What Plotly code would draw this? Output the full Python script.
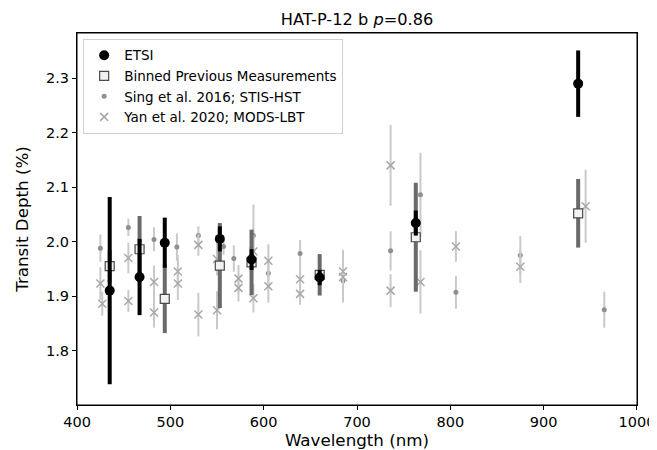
import plotly.graph_objects as go

# ETSI
etsi_wl = [435, 467, 494, 553, 587, 660, 763, 937]
etsi_depth = [1.910, 1.935, 1.998, 2.005, 1.967, 1.934, 2.034, 2.290]
etsi_err = [0.172, 0.070, 0.046, 0.023, 0.019, 0.014, 0.023, 0.061]

# Binned previous measurements
bin_wl = [435, 467, 494, 553, 587, 660, 763, 937]
bin_depth = [1.955, 1.986, 1.895, 1.956, 1.962, 1.939, 2.008, 2.052]
bin_err = [0.030, 0.061, 0.063, 0.078, 0.060, 0.038, 0.100, 0.063]

# Sing et al. 2016; STIS-HST
sing_wl = [425, 455, 482.5, 507, 530, 557, 568, 589, 605, 639, 685, 736, 768, 806, 875, 965]
sing_depth = [1.988, 2.026, 2.004, 1.990, 2.011, 1.991, 1.969, 2.011, 1.942, 1.978, 1.928, 1.983, 2.086, 1.907, 1.975, 1.875]
sing_err = [0.025, 0.016, 0.022, 0.025, 0.017, 0.015, 0.024, 0.057, 0.020, 0.025, 0.040, 0.036, 0.077, 0.030, 0.035, 0.033]

# Yan et al. 2020; MODS-LBT
yan_wl = [425, 427, 455, 455, 482.5, 482.5, 508, 508, 530, 530, 550, 550, 573, 573,
          589, 589, 605, 605, 639, 639, 685, 685, 736, 736, 768, 806, 875, 945]
yan_depth = [1.923, 1.886, 1.970, 1.891, 1.926, 1.870, 1.945, 1.923, 1.994, 1.866, 1.968, 1.874, 1.932, 1.915,
             1.982, 1.896, 1.965, 1.918, 1.931, 1.904, 1.945, 1.935, 2.140, 1.910, 1.926, 1.991, 1.954, 2.065]
yan_err = [0.030, 0.022, 0.028, 0.020, 0.030, 0.028, 0.030, 0.030, 0.020, 0.040, 0.030, 0.035, 0.025, 0.025,
           0.030, 0.026, 0.030, 0.030, 0.025, 0.020, 0.040, 0.040, 0.074, 0.030, 0.058, 0.028, 0.030, 0.067]

x_ticks = [400, 500, 600, 700, 800, 900, 1000]
y_ticks = [1.8, 1.9, 2.0, 2.1, 2.2, 2.3]

light = "#c9c9c9"
fig = go.Figure()

fig.add_trace(go.Scatter(
    x=sing_wl, y=sing_depth, mode="markers", name="Sing et al. 2016; STIS-HST",
    legendrank=3,
    marker=dict(symbol="circle", size=5, color="#8f8f8f"),
    error_y=dict(type="data", array=sing_err, color=light, thickness=2, width=0),
))
fig.add_trace(go.Scatter(
    x=yan_wl, y=yan_depth, mode="markers", name="Yan et al. 2020; MODS-LBT",
    legendrank=4,
    marker=dict(symbol="x-thin", size=8, color="#a8a8a8", line=dict(width=1.5, color="#a8a8a8")),
    error_y=dict(type="data", array=yan_err, color=light, thickness=2, width=0),
))
fig.add_trace(go.Scatter(
    x=bin_wl, y=bin_depth, mode="markers", name="Binned Previous Measurements",
    legendrank=2,
    marker=dict(symbol="square", size=9, color="#f2f2f2", line=dict(width=1.2, color="#4a4a4a")),
    error_y=dict(type="data", array=bin_err, color="#6a6a6a", thickness=4, width=0),
))
fig.add_trace(go.Scatter(
    x=etsi_wl, y=etsi_depth, mode="markers", name="ETSI",
    legendrank=1,
    marker=dict(symbol="circle", size=10, color="black"),
    error_y=dict(type="data", array=etsi_err, color="black", thickness=4, width=0),
))

axis_common = dict(
    showline=True, linecolor="black", linewidth=1, mirror=True,
    ticks="outside", ticklen=4, tickcolor="black",
    showgrid=False, zeroline=False, ticklabeloverflow="allow", automargin=False,
    tickfont=dict(family="DejaVu Sans", size=14.5, color="black"),
)

# page body has an 8px default margin, so the figure is sized/offset to compensate
fig.update_layout(
    width=669, height=442,
    margin=dict(l=69, r=40, t=25, b=45),
    paper_bgcolor="white", plot_bgcolor="white",
    font=dict(family="DejaVu Sans", color="black"),
    title=dict(text="HAT-P-12 b <i>p</i>=0.86", xref="paper", x=0.5, xanchor="center",
               yref="container", y=1 - 11 / 442, yanchor="middle",
               font=dict(family="DejaVu Sans", size=16.2, color="black")),
    xaxis=dict(range=[399.95, 1000.05], tickvals=x_ticks,
               ticktext=[str(v) for v in x_ticks],
               title=dict(text="Wavelength (nm)", font=dict(size=16.7), standoff=8),
               **axis_common),
    yaxis=dict(range=[1.70, 2.383], tickvals=y_ticks,
               ticktext=[f"{v:.1f}" for v in y_ticks],
               title=dict(text="Transit Depth (%)", font=dict(size=16.7), standoff=13),
               **axis_common),
    legend=dict(x=0.011, y=0.984, xanchor="left", yanchor="top",
                bgcolor="rgba(255,255,255,0.8)", bordercolor="#d0d0d0", borderwidth=1,
                font=dict(family="DejaVu Sans", size=13.5, color="black"),
                tracegroupgap=0),
    shapes=[dict(type="rect", xref="paper", yref="paper", x0=0, x1=1, y0=0, y1=1,
                 line=dict(color="black", width=1), layer="above")],
    showlegend=True,
)

fig.write_html("out.html")
